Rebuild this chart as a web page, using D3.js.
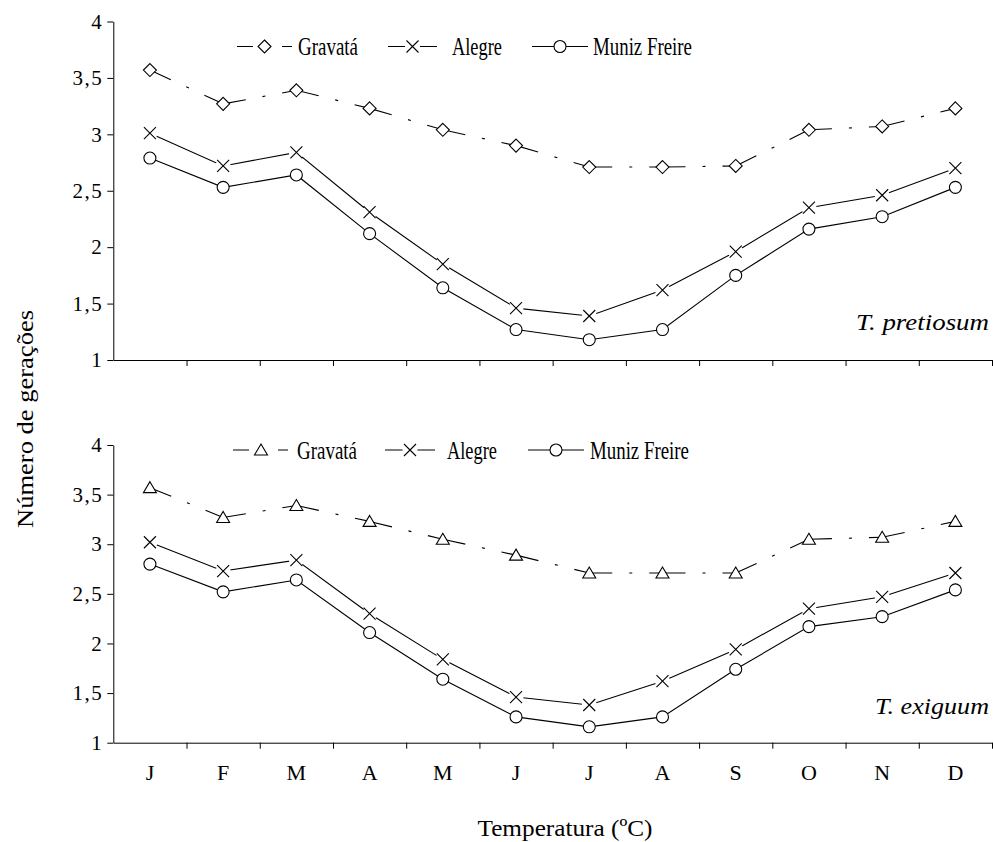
<!DOCTYPE html>
<html>
<head>
<meta charset="utf-8">
<script src="https://cdn.jsdelivr.net/npm/d3@7"></script>
<style>
  body { margin: 0; background: #fff; }
  svg text { font-family: "Liberation Serif", "Times New Roman", "DejaVu Serif", serif !important; fill: #000; }
</style>
</head>
<body>
<div id="chart"></div>
<script>
// months along the x axis
var months = ["J", "F", "M", "A", "M", "J", "J", "A", "S", "O", "N", "D"];
var yTicks = [1, 1.5, 2, 2.5, 3, 3.5, 4];
var seriesNames = ["Gravatá", "Alegre", "Muniz Freire"];

// T. pretiosum
var pretGravata = [3.57, 3.27, 3.39, 3.23, 3.04, 2.90, 2.71, 2.71, 2.72, 3.04, 3.07, 3.23];
var pretAlegre  = [3.01, 2.72, 2.84, 2.31, 1.85, 1.46, 1.39, 1.62, 1.96, 2.35, 2.46, 2.70];
var pretMuniz   = [2.79, 2.53, 2.64, 2.12, 1.64, 1.27, 1.18, 1.27, 1.75, 2.16, 2.27, 2.53];

// T. exiguum
var exigGravata = [3.57, 3.27, 3.39, 3.23, 3.05, 2.89, 2.71, 2.71, 2.71, 3.05, 3.07, 3.23];
var exigAlegre  = [3.02, 2.73, 2.84, 2.30, 1.84, 1.46, 1.38, 1.62, 1.94, 2.35, 2.47, 2.71];
var exigMuniz   = [2.80, 2.52, 2.64, 2.11, 1.64, 1.26, 1.16, 1.26, 1.74, 2.17, 2.27, 2.54];

var width = 993, height = 842;
var left = 113.3, right = 992;
var serif = '"Liberation Serif", "Times New Roman", serif';

var svg = d3.select("#chart")
  .append("svg")
    .attr("width", width)
    .attr("height", height);

svg.append("rect").attr("width", width).attr("height", height).attr("fill", "#fff");

var x = d3.scaleBand()
  .domain(d3.range(months.length))
  .range([left, right])
  .padding(0);

var xEdges = d3.scaleLinear()
  .domain([0, months.length])
  .range([left, right]);

var markers = {
  diamond: "M0,-6.5L6.5,0L0,6.5L-6.5,0Z",
  triangle: "M0,-6L6.5,5L-6.5,5Z",
  cross: "M-6,-6L6,6M-6,6L6,-6"
};

function cx(i) { return x(i) + x.bandwidth() / 2; }

function drawMarker(g, type, px, py) {
  if (type == "cross") {
    g.append("circle").attr("cx", px).attr("cy", py).attr("r", 7.5).attr("fill", "#fff");
    g.append("path").attr("d", markers.cross)
      .attr("transform", "translate(" + px + "," + py + ")")
      .attr("fill", "none").attr("stroke", "#000").attr("stroke-width", 1.1);
  } else if (type == "circle") {
    g.append("circle").attr("cx", px).attr("cy", py).attr("r", 6)
      .attr("fill", "#fff").attr("stroke", "#000").attr("stroke-width", 1.1);
  } else {
    g.append("path").attr("d", markers[type])
      .attr("transform", "translate(" + px + "," + py + ")")
      .attr("fill", "#fff").attr("stroke", "#000").attr("stroke-width", 1.1);
  }
}

function drawPanel(p) {
  var y = d3.scaleLinear().domain([1, 4]).range([p.bottom, p.top]);
  var g = svg.append("g").attr("font-family", serif);

  // y axis
  g.append("g")
    .attr("transform", "translate(" + left + ",0)")
    .call(d3.axisLeft(y).tickValues(yTicks).tickSize(6).tickSizeOuter(0).tickPadding(4)
      .tickFormat(function(d) { return String(d).replace(".", ","); }))
    .call(function(a) {
      a.attr("font-family", serif);
      a.selectAll("text").style("font-size", "21px").style("letter-spacing", "1.5px").style("font-family", serif);
      a.select(".domain").attr("stroke", "#000");
    });

  // x axis with ticks between months
  g.append("g")
    .attr("transform", "translate(0," + p.bottom + ")")
    .call(d3.axisBottom(xEdges).tickValues(d3.range(1, months.length + 1)).tickSize(6).tickSizeOuter(0).tickFormat(""))
    .select(".domain").attr("stroke", "#000");

  if (p.showMonths) {
    g.append("g")
      .attr("transform", "translate(0," + p.bottom + ")")
      .call(d3.axisBottom(x).tickSize(0).tickPadding(22).tickFormat(function(i) { return months[i]; }))
      .call(function(a) {
        a.attr("font-family", serif);
        a.select(".domain").remove();
        a.selectAll("text").style("font-size", "22px").style("font-family", serif);
      });
  }

  // Gravatá: dash-dot, pattern restarting on each segment
  var gv = p.series[0];
  for (var i = 0; i < gv.length - 1; i++) {
    g.append("line")
      .attr("x1", cx(i)).attr("y1", y(gv[i]))
      .attr("x2", cx(i + 1)).attr("y2", y(gv[i + 1]))
      .attr("stroke", "#000").attr("stroke-width", 1.1)
      .attr("stroke-dasharray", "23 17 3 17");
  }

  var line = d3.line()
    .x(function(d, i) { return cx(i); })
    .y(function(d) { return y(d); });

  [p.series[1], p.series[2]].forEach(function(s) {
    g.append("path")
      .datum(s)
      .attr("d", line)
      .attr("fill", "none")
      .attr("stroke", "#000")
      .attr("stroke-width", 1.1);
  });

  var types = [p.gravataMarker, "cross", "circle"];
  p.series.forEach(function(s, k) {
    s.forEach(function(v, i) { drawMarker(g, types[k], cx(i), y(v)); });
  });

  // legend
  var L = p.legend;
  var lg = g.append("g");
  lg.append("line").attr("x1", L.gx[0]).attr("x2", L.gx[1]).attr("y1", L.y).attr("y2", L.y)
    .attr("stroke", "#000").attr("stroke-width", 1.1).attr("stroke-dasharray", "16 29 10");
  drawMarker(lg, p.gravataMarker, (L.gx[0] + L.gx[1]) / 2, L.y);
  lg.append("line").attr("x1", L.ax[0]).attr("x2", L.ax[1]).attr("y1", L.y).attr("y2", L.y)
    .attr("stroke", "#000").attr("stroke-width", 1.1);
  drawMarker(lg, "cross", (L.ax[0] + L.ax[1]) / 2, L.y);
  lg.append("line").attr("x1", L.mx[0]).attr("x2", L.mx[1]).attr("y1", L.y).attr("y2", L.y)
    .attr("stroke", "#000").attr("stroke-width", 1.1);
  drawMarker(lg, "circle", (L.mx[0] + L.mx[1]) / 2, L.y);

  var widths = [60, 50, 99];
  seriesNames.forEach(function(n, k) {
    lg.append("text")
      .attr("x", L.tx[k]).attr("y", L.y).attr("dy", "0.34em")
      .attr("textLength", widths[k]).attr("lengthAdjust", "spacingAndGlyphs")
      .style("font-size", "26px").style("font-family", serif)
      .text(n);
  });

  g.append("text")
    .attr("x", 989).attr("y", p.labelY).attr("dy", "0.34em")
    .attr("text-anchor", "end")
    .attr("textLength", p.labelW).attr("lengthAdjust", "spacingAndGlyphs")
    .style("font-size", "23px").style("font-style", "italic").style("font-family", serif)
    .text(p.label);
}

drawPanel({
  top: 21.5, bottom: 360,
  series: [pretGravata, pretAlegre, pretMuniz],
  gravataMarker: "diamond",
  showMonths: false,
  label: "T. pretiosum", labelY: 322, labelW: 133,
  legend: { y: 46.5, gx: [237, 292], ax: [388, 437], mx: [532, 588], tx: [298, 452, 593] }
});

drawPanel({
  top: 445, bottom: 742.7,
  series: [exigGravata, exigAlegre, exigMuniz],
  gravataMarker: "triangle",
  showMonths: true,
  label: "T. exiguum", labelY: 706, labelW: 114,
  legend: { y: 450, gx: [233, 289], ax: [385, 435], mx: [528, 584], tx: [297, 447, 590] }
});

svg.append("text")
  .attr("transform", "translate(25,419) rotate(-90)")
  .attr("dy", "0.34em")
  .attr("text-anchor", "middle")
  .attr("textLength", 218).attr("lengthAdjust", "spacingAndGlyphs")
  .style("font-size", "24px").style("font-family", serif)
  .text("Número de gerações");

svg.append("text")
  .attr("x", 565).attr("y", 828).attr("dy", "0.34em")
  .attr("text-anchor", "middle")
  .attr("textLength", 175).attr("lengthAdjust", "spacingAndGlyphs")
  .style("font-size", "24px").style("font-family", serif)
  .text("Temperatura (ºC)");
</script>
</body>
</html>
